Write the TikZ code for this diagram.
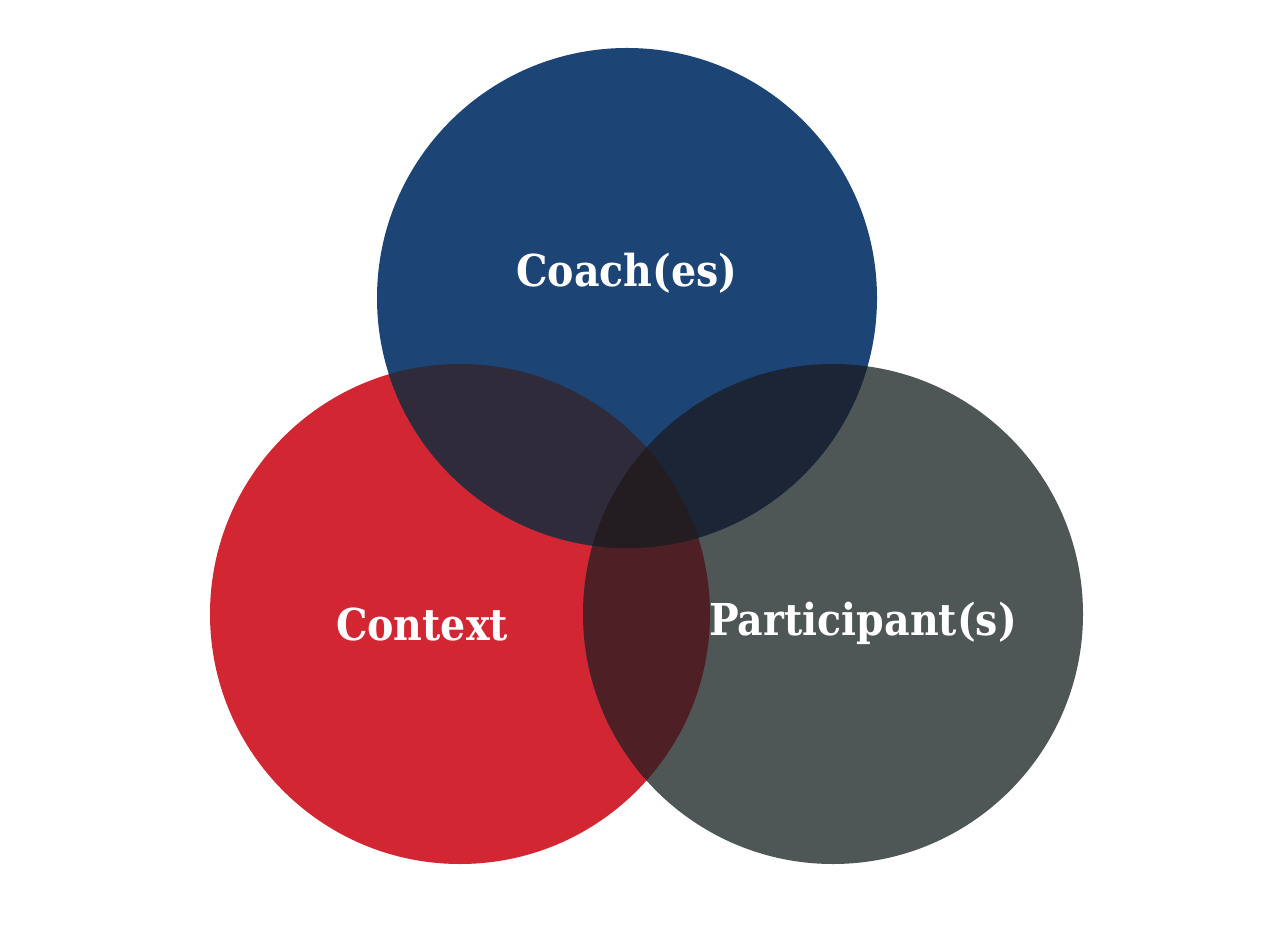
\documentclass[tikz,border=0pt]{standalone}
\usepackage{fontspec}
\setmainfont{DejaVu Serif Condensed}
\definecolor{coachBlue}{HTML}{1C4475}
\definecolor{contextRed}{HTML}{D22633}
\definecolor{partGrey}{HTML}{4F5656}
\definecolor{blueRed}{HTML}{2F2B3A}
\definecolor{blueGrey}{HTML}{1B2536}
\definecolor{redGrey}{HTML}{4F1F26}
\definecolor{allThree}{HTML}{231C21}
\tikzset{
  venn/.style={circle, minimum size=100mm, inner sep=0pt},
  lbl/.style={text=white, font=\bfseries\fontsize{25}{30}\selectfont}
}
\begin{document}
\begin{tikzpicture}[x=0.2mm,y=-0.2mm]
	\useasboundingbox[fill=white] (0,0) rectangle (1280,937);
	%%% the three sets
	\node[venn,fill=contextRed] (context) at (460,614) {};
	\node[venn,fill=partGrey] (part) at (833,614) {};
	\node[venn,fill=coachBlue] (coach) at (627,298) {};

	%%% overlaps
	\begin{scope}
		\clip (460,614) circle (250);
		\fill[redGrey] (833,614) circle (250);
	\end{scope}
	\begin{scope}
		\clip (627,298) circle (250);
		\fill[blueRed] (460,614) circle (250);
		\fill[blueGrey] (833,614) circle (250);
		\clip (460,614) circle (250);
		\fill[allThree] (833,614) circle (250);
	\end{scope}

	%%% labels
	\node[lbl] (coachLabel) at (627,273) {Coach(es)};
	\node[lbl] (contextLabel) at (422,625) {Context};
	\node[lbl] (partLabel) at (863,623) {Participant(s)};
\end{tikzpicture}
\end{document}
